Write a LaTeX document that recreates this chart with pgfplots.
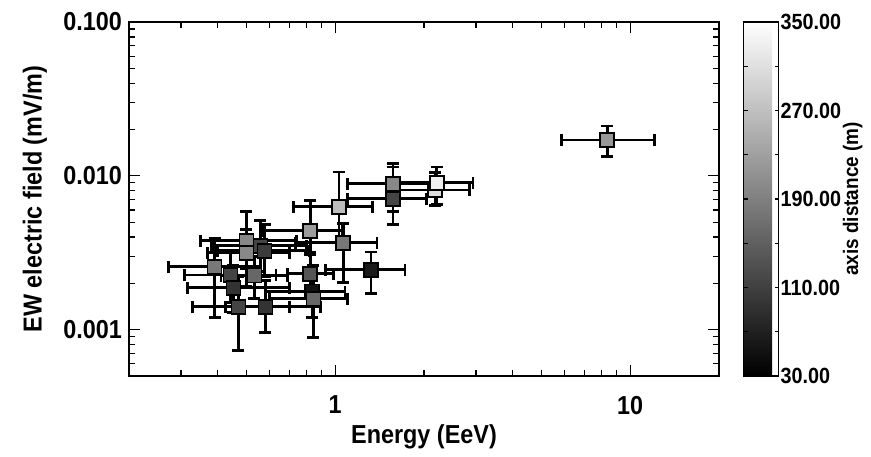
\documentclass[border=0pt]{standalone}
\usepackage{pgfplots}
\pgfplotsset{compat=1.18}
\usepackage{pgfplotstable}
\usepackage{fontspec}
\setmainfont{Liberation Sans}[FakeStretch=0.9]

\pgfplotstableread{
E     V        Em     Ep     Vm       Vp       D
0.390 0.00256  0.117  0.170  0.00136  0.00139  180
0.442 0.00227  0.133  0.188  0.00077  0.00103  115
0.452 0.00187  0.136  0.248  0.00057  0.00073  94
0.470 0.00141  0.141  0.230  0.00068  0.00079  115
0.580 0.00141  0.155  0.310  0.00045  0.00069  94
0.532 0.00225  0.122  0.157  0.00065  0.00075  158
0.500 0.00378  0.150  0.240  0.00128  0.00208  200
0.500 0.00316  0.130  0.200  0.00126  0.00134  200
0.558 0.00351  0.178  0.242  0.00111  0.00159  115
0.576 0.00326  0.176  0.244  0.00106  0.00154  103
0.836 0.00177  0.256  0.244  0.00057  0.00073  52
0.843 0.00159  0.243  0.257  0.00070  0.00101  158
0.823 0.00231  0.134  0.161  0.00061  0.00079  136
1.323 0.00245  0.398  0.401  0.00074  0.00075  62
1.064 0.00367  0.331  0.322  0.00165  0.00121  180
0.823 0.00440  0.252  0.233  0.00120  0.00250  225
1.030 0.00630  0.310  0.310  0.00260  0.00430  265
1.570 0.00710  0.470  0.470  0.00230  0.00430  115
1.570 0.00887  0.470  0.690  0.00297  0.00313  200
2.180 0.00810  0.530  0.680  0.00170  0.00240  307
2.210 0.00900  0.560  0.720  0.00250  0.00240  329
8.360 0.01710  2.510  3.690  0.00380  0.00400  220
}\data

\begin{document}
\begin{tikzpicture}
\begin{axis}[
  at={(0,0)}, anchor=south west,
  scale only axis, width=295pt, height=177pt,
  xmode=log, ymode=log,
  xmin=0.2, xmax=20, ymin=0.0005, ymax=0.1,
  xtick={1,10}, xticklabels={1,10},
  minor xtick={0.2,0.3,0.4,0.5,0.6,0.7,0.8,0.9,2,3,4,5,6,7,8,9,20},
  ytick={0.001,0.01,0.1}, yticklabels={0.001,0.010,0.100},
  minor ytick={0.0005,0.0006,0.0007,0.0008,0.0009,0.002,0.003,0.004,0.005,0.006,0.007,0.008,0.009,0.02,0.03,0.04,0.05,0.06,0.07,0.08,0.09},
  tick align=inside, major tick length=5.5pt, minor tick length=3pt,
  every tick/.style={black, line width=0.6pt},
  axis line style={line width=0.6pt},
  font=\bfseries\fontsize{13}{15}\selectfont,
  xticklabel style={yshift=-6.5pt},
  xlabel={Energy (EeV)},
  ylabel={EW electric field (mV/m)},
  every axis x label/.style={at={([yshift=-30.5pt]axis description cs:0.5,0)}, anchor=center},
  every axis y label/.style={at={([xshift=-47pt]axis description cs:0,0.5)}, rotate=90, anchor=center},
  colormap={bw}{gray(0cm)=(0); gray(1cm)=(1)},
  point meta min=30, point meta max=350,
  colorbar,
  colorbar shift/.style={xshift=12pt},
  colorbar style={
    width=17.5pt,
    ytick={30,110,190,270,350},
    yticklabels={30.00,110.00,190.00,270.00,350.00},
    minor ytick={70,150,230,310},
    yticklabel pos=right,
    ytick pos=both,
    tick align=inside, major tick length=2pt, minor tick length=2pt,
    every tick/.style={black, line width=0.6pt},
    axis line style={line width=0.6pt},
    yticklabel style={xshift=-2.5pt, font=\bfseries\fontsize{11}{13}\selectfont},
    ylabel={axis distance (m)},
    every axis y label/.style={at={([xshift=37pt]axis description cs:1,0.5)}, rotate=90, anchor=center, font=\bfseries\fontsize{10.5}{12}\selectfont},
  },
]
\addplot[scatter, only marks, mark=square*, mark size=3.5pt,
  scatter/use mapped color={draw=black, fill=mapped color},
  mark options={line width=0.8pt},
  point meta=explicit,
  error bars/.cd, x dir=both, x explicit, y dir=both, y explicit,
  error bar style={black, line width=1.4pt},
  error mark options={rotate=90, black, line width=1.4pt, mark size=3pt}]
  table[x=E, y=V, x error minus=Em, x error plus=Ep, y error minus=Vm, y error plus=Vp, meta=D] {\data};
\end{axis}
\pgfresetboundingbox
\useasboundingbox (-64.5pt,-40pt) rectangle (371pt,188pt);
\end{tikzpicture}
\end{document}
